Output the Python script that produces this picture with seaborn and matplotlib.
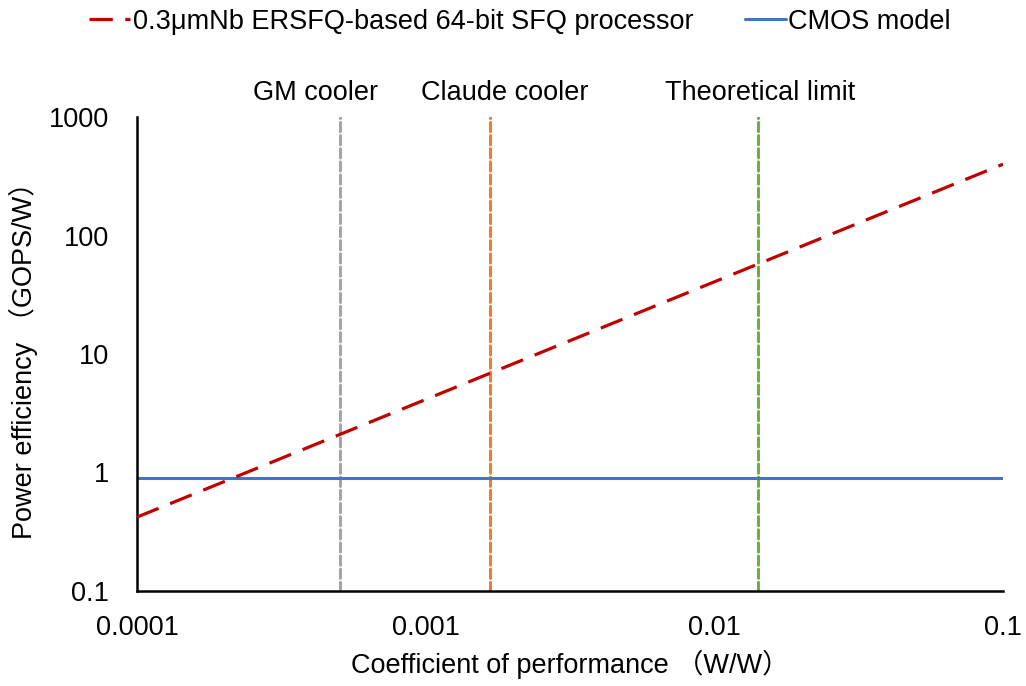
import numpy as np
import pandas as pd
import matplotlib
matplotlib.use("Agg")
import matplotlib.pyplot as plt
import seaborn as sns

# Data
cop = [0.0001, 0.1]
sfq_eff = [0.42, 400]
cmos_eff = [0.9, 0.9]
cooler_names = ["GM cooler", "Claude cooler", "Theoretical limit"]
cooler_cop = [0.000505, 0.00167, 0.0142]
cooler_label_x = [0.000417, 0.00188, 0.0144]
cooler_colors = ["#a5a5a5", "#ed7d31", "#70ad47"]
xticks = [0.0001, 0.001, 0.01, 0.1]
xticklabels = ["0.0001", "0.001", "0.01", "0.1"]
yticks = [0.1, 1, 10, 100, 1000]
yticklabels = ["0.1", "1", "10", "100", "1000"]

sns.set_theme(style="white")
plt.rcParams['font.family'] = ['Liberation Sans', 'Noto Sans CJK SC', 'DejaVu Sans']
plt.rcParams['text.color'] = 'black'

FS = 19.5
fig = plt.figure(figsize=(10.26, 6.86), dpi=100)
ax = fig.add_axes([0.1335, 0.1385, 0.9776 - 0.1335, 0.8294 - 0.1385])

df_sfq = pd.DataFrame({"cop": cop, "eff": sfq_eff})
df_cmos = pd.DataFrame({"cop": cop, "eff": cmos_eff})

for name, c, lx, col in zip(cooler_names, cooler_cop, cooler_label_x, cooler_colors):
    ax.axvline(c, color=col, lw=2.2, ls=(0, (3.0, 1.3)), dash_capstyle="round", zorder=1)
    ax.text(lx, 1.05, name, transform=ax.get_xaxis_transform(), ha="center",
            va="center", fontsize=FS, color="black")

sns.lineplot(data=df_cmos, x="cop", y="eff", ax=ax, color="#4472c4", lw=2.2,
             label="CMOS model", zorder=2)
sns.lineplot(data=df_sfq, x="cop", y="eff", ax=ax, color="#c00000", lw=2.3,
             label="0.3μmNb ERSFQ-based 64-bit SFQ processor", zorder=3)
ax.lines[-1].set_dashes([7.3, 3.9])

ax.set_xscale("log")
ax.set_yscale("log")
ax.set_xlim(0.0001, 0.1)
ax.set_ylim(0.1, 1000)
ax.set_xticks(xticks)
ax.set_xticklabels(xticklabels)
ax.set_yticks(yticks)
ax.set_yticklabels(yticklabels)
ax.minorticks_off()
ax.tick_params(axis="both", which="major", direction="out", length=7, width=1.6,
               color="black", labelsize=FS, labelcolor="black")
ax.tick_params(axis="x", pad=10)
ax.tick_params(axis="y", pad=13)
for s in ["top", "right"]:
    ax.spines[s].set_visible(False)
for s in ["left", "bottom"]:
    ax.spines[s].set_color("black")
    ax.spines[s].set_linewidth(1.8)

ax.set_xlabel("Coefficient of performance （W/W）", fontsize=FS, color="black", labelpad=7)
ax.set_ylabel("Power efficiency （GOPS/W）", fontsize=FS, color="black", labelpad=8)

handles, labels = ax.get_legend_handles_labels()
leg = ax.legend(handles[::-1], labels[::-1], loc="center", bbox_to_anchor=(0.507, 0.968),
                bbox_transform=fig.transFigure, ncol=2, frameon=False, fontsize=FS,
                handlelength=1.5, handletextpad=0.1, columnspacing=1.9)
for t in leg.get_texts():
    t.set_color("black")

fig.savefig("out.png", dpi=100)
